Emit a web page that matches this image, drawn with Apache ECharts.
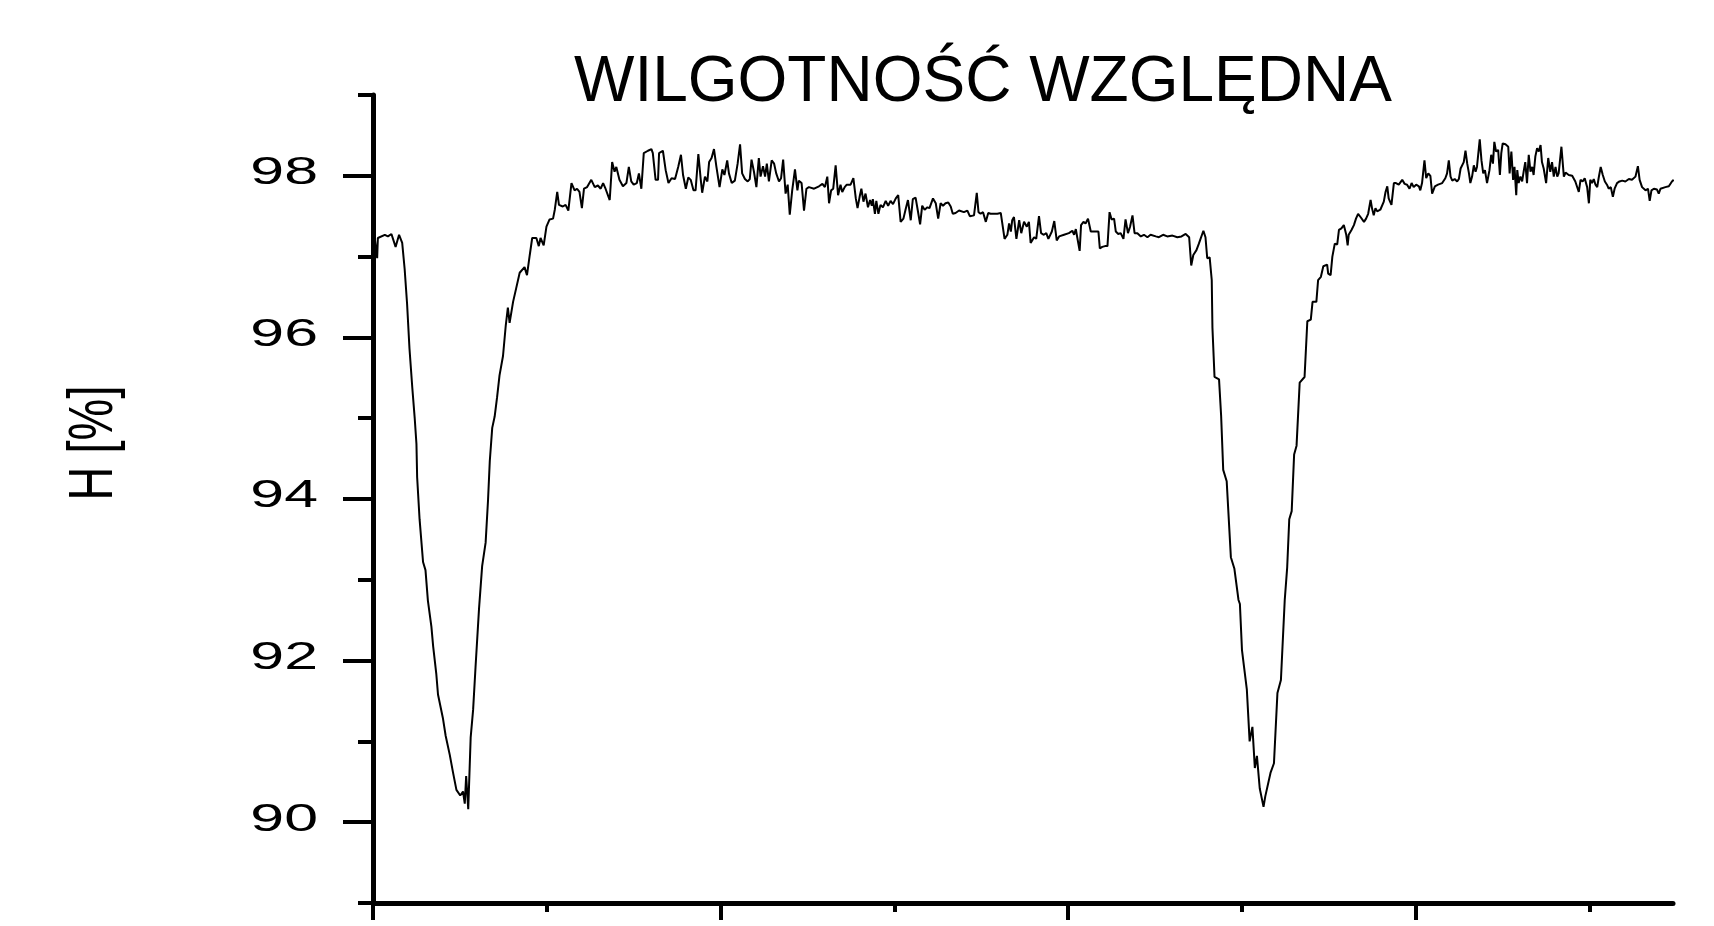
<!DOCTYPE html>
<html>
<head>
<meta charset="utf-8">
<title>Wilgotność względna</title>
<script src="https://cdn.jsdelivr.net/npm/echarts@6/dist/echarts.min.js"></script>
<style>
  html, body { margin: 0; padding: 0; background: #fff; }
  #main { width: 1714px; height: 926px; }
</style>
</head>
<body>
<div id="main"></div>
<script>
// czas (jednostki osi X, bez opisu) i wilgotnosc [%]
var czas = [
  0, 0.5, 1.2, 1.4, 1.9, 3.4, 4.3, 5.3, 6.5, 7.5, 8.4, 9.1, 9.8, 10.5, 11.3, 12.0, 12.5, 12.7, 13.4, 14.4,
  15.1, 15.8, 16.8, 17.3, 18.2, 18.7, 20.1, 20.9, 22.1, 23.0, 24.0, 25.1, 25.9, 26.4, 26.8, 27.4, 28.1, 28.8, 29.5, 30.5,
  31.4, 32.4, 33.1, 33.6, 34.3, 35.0, 35.7, 36.4, 37.4, 38.2, 38.8, 39.3, 40.3, 41.2, 42.2, 43.6, 44.3, 45.1, 45.8, 47.0,
  47.7, 48.2, 49.1, 49.9, 50.8, 51.8, 52.3, 53.0, 53.5, 54.6, 55.4, 56.2, 57.1, 58.0, 58.7, 59.4, 60.1, 60.7, 61.6, 62.8,
  63.8, 64.7, 65.5, 66.2, 66.9, 68.1, 68.8, 69.5, 70.0, 70.9, 71.9, 72.9, 73.6, 74.3, 75.0, 75.9, 76.5, 77.2, 77.9, 79.1,
  80.1, 80.5, 81.3, 82.0,
  82.3, 83.4, 84.2, 85.0, 85.9, 86.9, 87.8, 88.6, 89.2, 90.0, 90.7, 91.4, 92.2, 92.8, 93.6, 94.3, 94.7, 95.5, 96.2, 96.7,
  97.4, 98.1, 98.8, 99.7, 100.5, 101.1, 101.9, 102.4, 103.2, 104.1, 104.9, 105.6, 106.2, 107.0, 107.8, 108.4, 108.9, 109.6, 110.3, 111.0,
  111.5, 112.2, 112.8, 113.3, 113.9, 114.7, 115.4, 116.0, 116.8, 117.4, 118.0, 118.7, 119.3, 119.9, 120.6, 121.4, 122.1, 122.5, 123.3, 124.0,
  124.7, 125.4, 126.9, 128.3, 129.3, 130.0, 130.7, 131.2, 131.8, 132.4, 133.1, 133.8, 134.5, 135.0, 135.7, 136.3, 137.4, 138.2, 138.9, 139.4,
  140.0, 140.5, 141.1, 141.7, 142.4, 143.0, 143.5, 143.8, 144.4, 144.8, 145.4, 146.0, 146.7, 147.5, 148.2, 148.9, 149.6, 150.4, 151.1, 151.8,
  152.6, 153.2, 153.9, 154.7, 155.3, 156.1, 156.7, 157.4, 158.0, 158.7, 159.5, 160.1, 161.1, 161.9, 162.6, 163.3, 164.0, 164.7, 165.5, 166.2,
  166.8, 167.6,
  168.6, 170.0, 171.0, 171.7, 172.9, 173.7, 174.2, 174.8, 175.5, 176.3, 177.0, 177.7, 178.7, 179.6, 180.6, 181.7, 182.5, 183.0, 183.5, 183.9,
  184.4, 185.1, 185.9, 186.5, 187.3, 188.1, 188.7, 189.2, 190.2, 190.8, 191.6, 192.2, 193.0, 193.7, 194.3, 195.3, 196.0, 196.7, 197.4, 198.8,
  200.2, 201.2, 201.7, 202.2, 202.6, 203.3, 203.7, 204.4, 205.0, 205.7, 206.5, 207.4, 208.7, 209.1, 209.8, 210.6, 211.3, 211.9, 212.5, 213.2,
  213.7, 214.4, 215.1, 215.9, 216.5, 217.2, 217.8, 218.5, 219.1, 219.9, 220.9, 221.8, 222.8, 223.7, 225.2, 226.1, 227.3, 228.5, 230.0, 231.4,
  232.6, 233.8, 234.8, 235.4, 236.0, 236.9, 237.6, 238.9, 239.5, 240.0, 240.7, 241.3,
  241.5, 242.1, 243.4, 244.0, 244.6, 245.6, 246.8, 247.8, 249.0, 249.4, 250.0, 250.6, 251.4, 252.2, 253.0, 253.7, 254.3, 255.1, 256.2, 256.7,
  258.2, 259.2, 260.2, 261.2, 262.3, 263.0, 263.6, 264.3, 265.0, 265.7, 266.6, 268.0, 268.8, 269.8, 270.3, 271.4, 271.9, 272.7, 273.4, 274.5,
  274.8, 275.5, 276.0,
  276.7, 277.4, 277.9, 278.6, 279.3, 280.0, 280.4, 280.7, 281.5, 282.2, 282.8, 283.4, 284.1, 285.1, 285.7, 286.3, 287.0, 287.4, 287.9, 288.4,
  288.9, 289.4, 289.8, 290.3, 290.8, 291.3, 291.8, 292.2, 293.0, 293.7, 294.3, 295.1, 296.1, 296.8, 297.5, 298.2, 298.8, 299.4, 300.1, 300.9,
  301.3, 301.8, 302.5, 303.0, 303.6, 304.2, 304.7, 305.5, 306.4, 307.6, 308.5, 309.0, 309.5, 310.0, 310.5, 311.2, 311.9, 312.4, 312.9, 313.3,
  313.8, 314.3, 314.8, 315.3, 315.7, 316.2, 316.7, 317.2, 317.6, 318.4, 318.9, 319.4, 319.9, 320.5, 321.2, 321.7, 322.2, 322.6, 323.1, 323.7,
  324.2, 324.6, 325.0, 325.8, 326.6, 327.0, 327.5, 328.0, 328.4, 328.9, 329.2, 329.6, 330.1, 330.6, 331.1, 331.5, 332.0, 332.5, 333.0, 333.5,
  333.9, 334.4, 334.9, 335.4, 335.9, 336.3, 336.8, 337.5, 338.1, 338.7, 339.2, 339.7, 340.2, 340.7, 341.1, 341.9, 342.6, 343.1, 344.0, 345.0,
  345.9, 346.4, 346.9, 347.4, 348.0, 348.6, 349.3, 349.8, 350.2, 350.7, 351.2, 351.7, 352.2, 352.6, 353.2, 353.8, 354.4, 355.0, 355.5, 356.1,
  356.7, 357.2, 357.9, 358.6, 359.4, 360.3, 361.3, 362.2, 363.2, 363.9, 364.4, 365.1, 366.1, 366.8, 367.3, 367.8, 368.5, 369.4, 369.9, 370.4,
  370.9, 371.8, 372.8, 373.7, 374.2
];
var wilgotnosc = [
  97.20, 97.23, 96.98, 97.23, 97.25, 97.27, 97.25, 97.28, 97.12, 97.27, 97.17, 96.85, 96.42, 95.86, 95.38, 95.00, 94.68, 94.27, 93.75, 93.22,
  93.12, 92.74, 92.42, 92.18, 91.84, 91.58, 91.29, 91.07, 90.83, 90.62, 90.40, 90.33, 90.38, 90.23, 90.57, 90.16, 91.05, 91.39, 91.92, 92.64,
  93.17, 93.46, 93.99, 94.47, 94.88, 95.02, 95.26, 95.53, 95.77, 96.15, 96.37, 96.18, 96.44, 96.61, 96.80, 96.87, 96.77, 97.02, 97.23, 97.23,
  97.13, 97.23, 97.14, 97.37, 97.46, 97.47, 97.58, 97.80, 97.64, 97.62, 97.64, 97.57, 97.91, 97.82, 97.84, 97.80, 97.60, 97.84, 97.86, 97.95,
  97.86, 97.88, 97.84, 97.91, 97.84, 97.70, 98.17, 98.05, 98.11, 97.95, 97.87, 97.91, 98.11, 97.93, 97.89, 97.91, 98.03, 97.84, 98.28, 98.31,
  98.33, 98.28, 97.95, 97.95,
  98.28, 98.31, 98.07, 97.91, 97.97, 97.96, 98.11, 98.26, 98.01, 97.84, 97.98, 97.95, 97.82, 97.82, 98.27, 97.95, 97.79, 97.99, 97.93, 98.17,
  98.22, 98.33, 98.11, 97.86, 98.08, 98.01, 98.19, 98.03, 97.91, 97.94, 98.15, 98.39, 98.03, 97.96, 97.93, 97.96, 98.20, 98.05, 97.86, 98.22,
  97.99, 98.12, 97.99, 98.15, 97.93, 98.19, 98.15, 98.03, 97.93, 97.97, 98.20, 97.78, 97.89, 97.52, 97.82, 98.08, 97.82, 97.94, 97.91, 97.57,
  97.84, 97.86, 97.84, 97.87, 97.90, 97.86, 97.99, 97.66, 97.82, 97.84, 98.13, 97.76, 97.89, 97.80, 97.86, 97.89, 97.89, 97.97, 97.72, 97.60,
  97.74, 97.84, 97.68, 97.78, 97.61, 97.70, 97.63, 97.71, 97.53, 97.69, 97.53, 97.64, 97.61, 97.69, 97.63, 97.69, 97.65, 97.72, 97.76, 97.43,
  97.47, 97.58, 97.70, 97.45, 97.71, 97.73, 97.58, 97.40, 97.63, 97.58, 97.61, 97.60, 97.72, 97.66, 97.47, 97.66, 97.63, 97.66, 97.67, 97.62,
  97.53, 97.54,
  97.57, 97.55, 97.57, 97.50, 97.51, 97.79, 97.55, 97.53, 97.55, 97.43, 97.54, 97.53, 97.53, 97.53, 97.54, 97.22, 97.27, 97.41, 97.31, 97.45,
  97.49, 97.22, 97.45, 97.29, 97.43, 97.37, 97.43, 97.17, 97.24, 97.22, 97.50, 97.29, 97.27, 97.29, 97.22, 97.31, 97.44, 97.20, 97.25, 97.27,
  97.29, 97.32, 97.27, 97.34, 97.24, 97.07, 97.39, 97.43, 97.41, 97.47, 97.31, 97.31, 97.31, 97.10, 97.12, 97.13, 97.13, 97.55, 97.46, 97.47,
  97.31, 97.28, 97.29, 97.22, 97.46, 97.29, 97.37, 97.51, 97.29, 97.29, 97.25, 97.27, 97.24, 97.27, 97.25, 97.24, 97.27, 97.25, 97.26, 97.24,
  97.25, 97.28, 97.24, 96.89, 97.02, 97.08, 97.16, 97.32, 97.24, 96.98, 96.99, 96.71,
  96.12, 95.51, 95.48, 95.03, 94.36, 94.22, 93.28, 93.14, 92.75, 92.70, 92.13, 91.92, 91.64, 91.00, 91.18, 90.67, 90.82, 90.42, 90.19, 90.32,
  90.61, 90.73, 91.60, 91.76, 92.75, 93.15, 93.75, 93.85, 94.55, 94.66, 95.44, 95.51, 96.20, 96.22, 96.44, 96.44, 96.71, 96.75, 96.88, 96.90,
  96.79, 96.77, 97.00,
  97.16, 97.15, 97.33, 97.35, 97.39, 97.27, 97.14, 97.27, 97.33, 97.39, 97.47, 97.53, 97.49, 97.43, 97.47, 97.53, 97.70, 97.60, 97.51, 97.60,
  97.56, 97.58, 97.58, 97.60, 97.68, 97.80, 97.87, 97.72, 97.64, 97.91, 97.91, 97.89, 97.95, 97.90, 97.89, 97.84, 97.91, 97.86, 97.89, 97.87,
  97.82, 97.91, 98.19, 97.97, 98.03, 98.00, 97.78, 97.87, 97.89, 97.91, 97.97, 98.03, 98.19, 97.99, 97.94, 97.96, 97.93, 97.96, 98.09, 98.11,
  98.17, 98.31, 98.15, 98.03, 97.91, 97.99, 98.13, 98.05, 98.11, 98.45, 98.19, 98.03, 98.07, 97.91, 98.07, 98.26, 98.15, 98.42, 98.30, 98.32,
  98.01, 98.28, 98.40, 98.39, 98.36, 98.03, 98.30, 97.95, 98.11, 97.76, 98.07, 97.91, 97.99, 97.93, 98.07, 98.17, 97.91, 98.26, 98.05, 98.11,
  98.01, 98.24, 98.34, 98.30, 98.38, 98.17, 98.09, 97.91, 98.22, 98.05, 98.17, 97.99, 98.11, 97.99, 98.03, 98.36, 97.99, 98.04, 98.01, 98.00,
  97.93, 97.95, 97.80, 97.95, 97.93, 97.97, 97.86, 97.66, 97.95, 97.91, 97.96, 97.89, 97.86, 97.97, 98.11, 98.01, 97.93, 97.89, 97.84, 97.86,
  97.74, 97.84, 97.91, 97.93, 97.94, 97.93, 97.96, 97.95, 97.99, 98.12, 97.95, 97.86, 97.82, 97.84, 97.69, 97.82, 97.84, 97.83, 97.78, 97.84,
  97.82, 97.86, 97.87, 97.93, 97.95
];

// podzialki osi
var xMajor = [0, 100, 200, 300];
var xMinor = [50, 150, 250, 350];
var yMajor = [90, 92, 94, 96, 98];
var yMinor = [89, 91, 93, 95, 97, 99];
var yLabels = ['90', '92', '94', '96', '98'];

var dane = [];
for (var i = 0; i < czas.length; i++) {
    dane.push([czas[i], wilgotnosc[i]]);
}

var myChart = echarts.init(document.getElementById('main'));

var osX = {
    type: 'value', min: 0, max: 374,
    splitLine: {show: false},
    axisLabel: {show: false}
};
var osY = {
    type: 'value', min: 89, max: 99,
    splitLine: {show: false},
    axisLabel: {show: false}
};

myChart.setOption({
    animation: false,
    backgroundColor: '#fff',
    title: {
        text: 'WILGOTNOŚĆ WZGLĘDNA',
        left: 574,
        top: 51,
        padding: 0,
        textStyle: {
            fontFamily: 'Liberation Sans, Arial, sans-serif',
            fontSize: 64,
            fontWeight: 'normal',
            color: '#000'
        }
    },
    grid: {left: 373, right: 41, top: 95, bottom: 23, containLabel: false},
    xAxis: [
        Object.assign({}, osX, {
            position: 'bottom',
            axisLine: {show: true, lineStyle: {color: '#000', width: 5}},
            axisTick: {show: true, customValues: xMajor, length: 17, lineStyle: {color: '#000', width: 4}}
        }),
        Object.assign({}, osX, {
            position: 'bottom',
            axisLine: {show: false},
            axisTick: {show: true, customValues: xMinor, length: 9, lineStyle: {color: '#000', width: 4}}
        })
    ],
    yAxis: [
        Object.assign({}, osY, {
            position: 'left',
            axisLine: {show: true, lineStyle: {color: '#000', width: 5}},
            axisTick: {show: true, customValues: yMajor, length: 30, lineStyle: {color: '#000', width: 4}}
        }),
        Object.assign({}, osY, {
            position: 'left',
            axisLine: {show: false},
            axisTick: {show: true, customValues: yMinor, length: 15, lineStyle: {color: '#000', width: 4}}
        })
    ],
    series: [{
        type: 'line',
        data: dane,
        showSymbol: false,
        symbol: 'none',
        smooth: false,
        lineStyle: {color: '#000', width: 2},
        z: 3
    }]
});

// opisy osi Y rozciagniete w poziomie (jak w oryginale)
var osXpx = myChart.convertToPixel({xAxisIndex: 0}, 0);
var grafika = [];
for (var j = 0; j < yMajor.length; j++) {
    var py = myChart.convertToPixel({yAxisIndex: 0}, yMajor[j]);
    grafika.push({
        type: 'text',
        x: osXpx - 55,
        y: py - 2,
        scaleX: 1.6,
        style: {
            text: yLabels[j],
            font: '38px "Liberation Sans", Arial, sans-serif',
            fill: '#000',
            textAlign: 'right',
            textVerticalAlign: 'middle',
            align: 'right',
            verticalAlign: 'middle'
        }
    });
}
grafika.push({
    type: 'text',
    x: 95,
    y: 443,
    rotation: Math.PI / 2,
    scaleY: 1.35,
    style: {
        text: 'H [%]',
        font: '47px "Liberation Sans", Arial, sans-serif',
        fill: '#000',
        textAlign: 'center',
        textVerticalAlign: 'middle',
        align: 'center',
        verticalAlign: 'middle'
    }
});
myChart.setOption({graphic: grafika});
</script>
</body>
</html>
